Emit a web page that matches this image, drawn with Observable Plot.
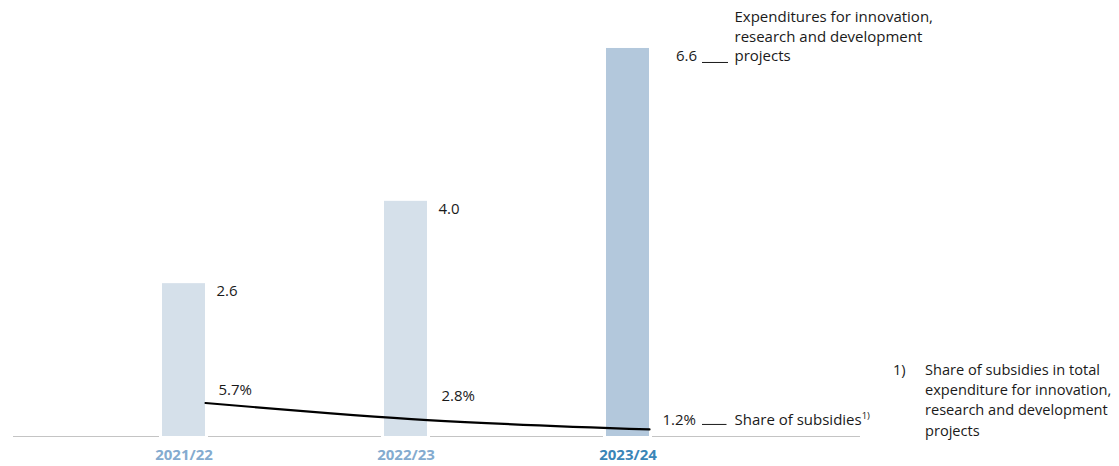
<!DOCTYPE html>
<html>
<head>
<meta charset="utf-8">
<script src="https://cdn.jsdelivr.net/npm/d3@7"></script>
<script src="https://cdn.jsdelivr.net/npm/@observablehq/plot@0.6"></script>
<style>
  html, body { margin: 0; padding: 0; background: #fff; }
  #wrap { position: relative; width: 1119px; height: 466px; font-family: "Open Sans", sans-serif; color: #1a1a1a; }
  #chart svg { display: block; }
  #note { position: absolute; left: 893px; top: 359px; font-size: 14.6px; line-height: 20.2px; }
  #note .num { position: absolute; left: 0; top: 0; }
  #note .txt { position: absolute; left: 32px; top: 0; width: 200px; white-space: nowrap; }
</style>
</head>
<body>
<div id="wrap">
  <div id="chart"></div>
  <div id="note"><span class="num"></span><span class="txt"></span></div>
</div>
<script>
// ---- data ----
const years = ["2021/22", "2022/23", "2023/24"];
const expenditures = [2.6, 4.0, 6.6];
const expenditureLabels = ["2.6", "4.0", "6.6"];
const subsidyShare = [5.7, 2.8, 1.2];
const subsidyLabels = ["5.7%", "2.8%", "1.2%"];
const expenditureSeriesLabel = "Expenditures for innovation,\nresearch and development\nprojects";
const shareSeriesLabel = "Share of subsidies";
const footnoteMark = "1)";
const footnoteNumber = "1)";
const footnoteLines = ["Share of subsidies in total", "expenditure for innovation,", "research and development", "projects"];

// ---- styles ----
const barLight = "#d5e0ea", barDark = "#b3c8dc";
const tickLight = "#84abcf", tickDark = "#3a85b7";
const textColor = "#1a1a1a";
const shareToY = 0.1; // secondary (percent) axis folded onto the bar axis

const rows = years.map((year, i) => ({
  year,
  value: expenditures[i],
  valueLabel: expenditureLabels[i],
  share: subsidyShare[i] * shareToY,
  shareLabel: subsidyLabels[i],
  last: i === years.length - 1
}));
const lastRow = rows.filter(d => d.last);

const fs = 15;

const chart = Plot.plot({
  width: 1119,
  height: 466,
  marginTop: 0,
  marginBottom: 30,
  marginLeft: 13,
  marginRight: 259,
  style: { fontFamily: "'Open Sans', sans-serif", fontSize: fs + "px", color: textColor, background: "transparent" },
  x: { type: "band", domain: years, paddingInner: 0.8067, paddingOuter: 0.8067, align: 0.415, label: null },
  y: { domain: [0, 7.416], axis: null },
  marks: [
    Plot.ruleY([0], { stroke: "#c4c4c4", strokeWidth: 1.2 }),
    Plot.barY(rows, {
      x: "year", y: "value",
      fill: d => d.last ? barDark : barLight,
      stroke: "white", strokeWidth: 3,
      insetLeft: -1.5, insetRight: -1.5, insetTop: -1.5, insetBottom: -1.5
    }),
    Plot.line(rows, { x: "year", y: "share", dx: 21.5, stroke: "black", strokeWidth: 2.2, curve: "monotone-x" }),
    // value labels
    Plot.text(rows.filter(d => !d.last), { x: "year", y: "value", text: "valueLabel", dx: 32.5, dy: 8, textAnchor: "start", fill: textColor, fontSize: fs }),
    Plot.text(lastRow, { x: "year", y: "value", text: "valueLabel", dx: 69, dy: 8, textAnchor: "end", fill: textColor, fontSize: fs }),
    // share labels
    Plot.text(rows.filter((d, i) => i === 0), { x: "year", y: "share", text: "shareLabel", dx: 34.5, dy: -13, textAnchor: "start", fill: textColor, fontSize: fs }),
    Plot.text(rows.filter((d, i) => i === 1), { x: "year", y: "share", text: "shareLabel", dx: 35.5, dy: -23.5, textAnchor: "start", fill: textColor, fontSize: fs }),
    Plot.text(lastRow, { x: "year", y: "share", text: "shareLabel", dx: 34.5, dy: -9, textAnchor: "start", fill: textColor, fontSize: fs }),
    // series annotations
    Plot.text(lastRow, { x: "year", y: "value", text: () => expenditureSeriesLabel, dx: 106.5, dy: 12.8, textAnchor: "start", lineAnchor: "bottom", lineHeight: 1.3, fill: textColor, fontSize: fs }),
    Plot.text(lastRow, { x: "year", y: "share", text: () => shareSeriesLabel, dx: 106.5, dy: -9, textAnchor: "start", fill: textColor, fontSize: fs, className: "share-series" }),
    // leader dashes, positioned from the scales
    (index, scales) => {
      const g = d3.create("svg:g").attr("stroke", textColor).attr("stroke-width", 1);
      const d = lastRow[0];
      const cx = scales.x(d.year) + scales.x.bandwidth() / 2;
      g.append("line").attr("x1", cx + 74.5).attr("x2", cx + 100.5)
        .attr("y1", scales.y(d.value) + 14.5).attr("y2", scales.y(d.value) + 14.5);
      g.append("line").attr("x1", cx + 74.5).attr("x2", cx + 99)
        .attr("y1", scales.y(d.share) - 4.5).attr("y2", scales.y(d.share) - 4.5);
      return g.node();
    },
    Plot.axisX({ tickSize: 0, tickPadding: 13, fontWeight: "bold", fontSize: 15, fill: d => d === years[years.length - 1] ? tickDark : tickLight, label: null })
  ]
});

document.getElementById("chart").appendChild(chart);

// superscript footnote marker on the series label
const st = chart.querySelector(".share-series text");
if (st) {
  const ts = document.createElementNS("http://www.w3.org/2000/svg", "tspan");
  ts.setAttribute("font-size", "9.5");
  ts.setAttribute("dy", "-6");
  ts.textContent = footnoteMark;
  st.appendChild(ts);
}

// footnote
document.querySelector("#note .num").textContent = footnoteNumber;
document.querySelector("#note .txt").innerHTML = footnoteLines.join("<br>");
</script>
</body>
</html>
